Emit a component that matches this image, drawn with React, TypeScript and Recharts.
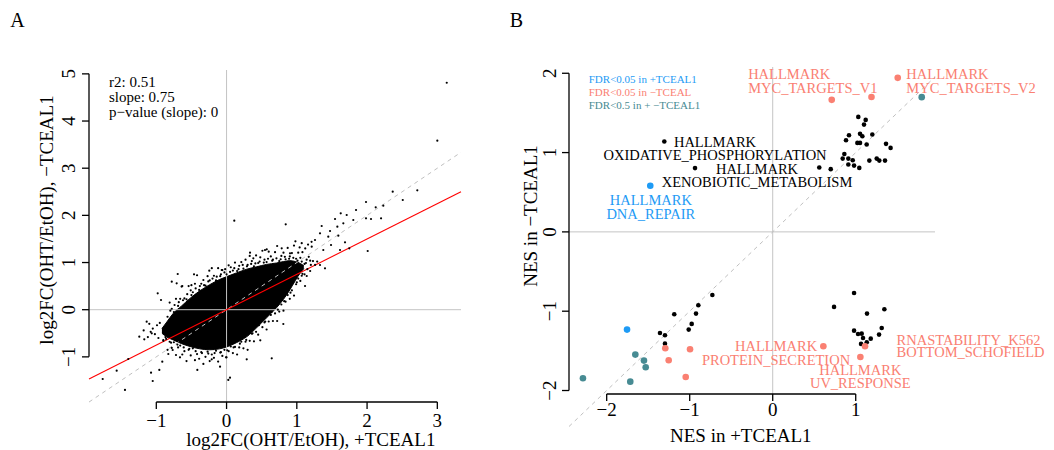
import React from 'react';
import { ComposedChart, ScatterChart, Scatter, Area, XAxis, YAxis, ReferenceLine, Label } from 'recharts';

const FONT = '"Liberation Serif", "Times New Roman", "DejaVu Serif", serif';
const SALMON = '#FA8072';
const BLUE = '#1E9BF5';
const TEAL = '#478B93';
const GRID = '#C4C4C4';

// ================= Panel A data =================
const aXTicks = [-1, 0, 1, 2, 3];
const aYTicks = [-1, 0, 1, 2, 3, 4, 5];
const aXDomain: [number, number] = [-1.958, 3.337];
const aYDomain: [number, number] = [-1.957, 5.082];

// dense core of the gene cloud (lower / upper edge per x)
const aCoreX = [-0.92, -0.85, -0.76, -0.64, -0.52, -0.38, -0.24, -0.1, 0.0, 0.14, 0.29, 0.43, 0.57, 0.71, 0.81, 0.9, 0.98, 1.05, 1.1];
const aCoreLow = [-0.5, -0.58, -0.64, -0.72, -0.78, -0.83, -0.85, -0.83, -0.79, -0.7, -0.57, -0.38, -0.17, 0.04, 0.22, 0.42, 0.62, 0.78, 0.87];
const aCoreHigh = [-0.4, -0.26, -0.08, 0.08, 0.24, 0.4, 0.53, 0.64, 0.7, 0.78, 0.86, 0.91, 0.96, 0.99, 1.02, 1.04, 1.02, 0.98, 0.93];

// isolated genes
const aOutliers: [number, number][] = [
  [3.134, 4.812], [3.0, 3.583], [0.11, 1.887], [0.842, 1.81], [1.985, 2.283], [2.365, 2.502], [2.715, 2.531],
  [2.508, 2.326], [2.123, 2.171], [2.231, 2.205], [1.843, 2.114], [1.71, 2.008], [1.985, 1.938], [2.056, 1.923],
  [2.199, 1.938], [1.804, 1.902], [1.625, 2.044], [1.544, 1.923], [1.662, 1.832], [2.009, 1.244], [1.747, 1.302],
  [1.686, 1.429], [1.615, 1.266], [1.577, 1.76], [1.473, 1.668], [1.354, 1.774], [1.448, 1.548], [1.591, 1.569],
  [1.33, 1.62], [1.487, 1.372], [1.377, 1.266], [1.259, 1.478], [1.212, 1.336], [1.401, 0.878], [1.33, 0.948],
  [1.141, 0.714], [1.117, 0.502], [0.808, -0.303], [0.643, -1.03], [0.287, -1.052], [0.025, -1.49], [0.049, -1.442],
  [-0.008, -1.009], [-0.093, -1.208], [-0.416, -1.278], [-0.211, -1.052], [0.572, 1.28], [0.334, 1.208], [0.785, 1.302],
  [-0.069, 0.842], [-0.246, 0.827], [-0.463, 0.75], [-0.695, 0.757], [-0.98, 0.348], [-0.933, 0.206], [-1.137, -0.254],
  [-1.242, -0.572], [-1.171, -0.628], [-1.065, -0.5], [-0.9, -0.642], [-1.399, -1.045], [-1.564, -1.293], [-1.763, -1.469],
  [-1.446, -1.702], [-1.075, -1.336], [-1.051, -1.512], [-0.957, -1.278], [-0.915, -1.102], [-0.829, -0.939],
  [-0.663, -1.009], [-0.767, -0.854], [0.381, 1.09], [0.547, 1.266], [0.903, 1.196], [1.07, 1.41], [1.21, 1.44],
  [-0.78, 0.594], [-0.71, 0.56], [-0.64, 0.49], [-0.5, 0.52], [0.096, 0.7],
];

// speckled halo above the core
const aHaloUpper: [number, number][] = [
  [-0.84, -0.15], [-0.81, 0.15], [-0.78, 0.02], [-0.75, -0.05], [-0.72, 0.23], [-0.69, 0.08], [-0.66, 0.23], [-0.63, 0.5],
  [-0.6, 0.24], [-0.57, 0.22], [-0.54, 0.5], [-0.51, 0.41], [-0.48, 0.37], [-0.45, 0.55], [-0.42, 0.73], [-0.39, 0.42],
  [-0.36, 0.55], [-0.33, 0.63], [-0.3, 0.51], [-0.27, 0.71], [-0.24, 0.62], [-0.21, 0.88], [-0.18, 0.72], [-0.15, 0.62],
  [-0.12, 0.88], [-0.09, 0.71], [-0.06, 0.84], [-0.03, 0.79], [0.0, 0.75], [0.03, 0.94], [0.06, 0.9], [0.09, 0.83],
  [0.12, 1.0], [0.15, 0.82], [0.18, 0.93], [0.21, 1.01], [0.24, 0.87], [0.27, 1.06], [0.3, 0.95], [0.33, 1.14],
  [0.36, 1.03], [0.39, 0.92], [0.42, 1.15], [0.45, 0.99], [0.48, 1.11], [0.51, 1.25], [0.54, 1.06], [0.57, 1.01],
  [0.6, 1.23], [0.63, 1.13], [0.66, 1.06], [0.69, 1.22], [0.72, 1.35], [0.75, 1.03], [0.78, 1.14], [0.81, 1.21],
  [0.84, 1.07], [0.87, 1.31], [0.9, 1.13], [0.93, 1.2], [0.96, 1.36], [0.99, 1.08], [1.02, 1.21], [1.05, 1.1],
  [1.08, 1.22], [1.11, 0.97], [1.14, 1.06], [1.17, 1.12], [1.2, 0.95], [1.23, 1.03], [1.26, 0.95], [1.29, 1.02],
  [1.04, 1.32], [1.12, 1.3], [0.98, 1.45], [1.16, 1.38],
  [-0.8, -0.02], [-0.74, 0.1], [-0.68, 0.16], [-0.62, 0.2], [-0.56, 0.33], [-0.5, 0.31], [-0.44, 0.45], [-0.38, 0.5],
  [-0.32, 0.52], [-0.26, 0.6], [-0.2, 0.66], [-0.14, 0.7], [-0.08, 0.75], [-0.02, 0.86], [0.05, 0.8], [0.11, 0.88],
  [0.17, 0.86], [0.23, 0.95], [0.29, 0.92], [0.35, 0.97], [0.41, 0.98], [0.47, 1.02], [0.53, 1.0], [0.59, 1.08],
  [0.65, 1.04], [0.71, 1.09], [0.77, 1.07], [0.83, 1.12], [0.89, 1.08], [0.95, 1.1], [1.01, 1.04], [1.07, 1.02],
  [1.13, 0.99], [1.19, 1.04],
];

// speckled halo below the core and around its left tip
const aHaloLower: [number, number][] = [
  [-1.05, -0.4], [-1.02, -0.52], [-0.99, -0.33], [-0.97, -0.6], [-1.08, -0.47], [-1.12, -0.58], [-1.18, -0.44],
  [-1.1, -0.3], [-0.95, -0.28],
  [-0.9, -0.66], [-0.87, -0.58], [-0.84, -0.85], [-0.81, -0.68], [-0.78, -0.81], [-0.75, -0.69], [-0.72, -0.96],
  [-0.69, -0.8], [-0.66, -0.76], [-0.63, -0.95], [-0.6, -0.88], [-0.57, -1.09], [-0.54, -0.85], [-0.51, -0.97],
  [-0.48, -0.82], [-0.45, -1.07], [-0.42, -0.94], [-0.39, -1.04], [-0.36, -0.9], [-0.33, -1.15], [-0.3, -1.0],
  [-0.27, -0.89], [-0.24, -1.09], [-0.21, -0.95], [-0.18, -1.02], [-0.15, -0.87], [-0.12, -1.1], [-0.09, -0.91],
  [-0.06, -0.98], [-0.03, -0.85], [0.0, -1.01], [0.03, -0.88], [0.06, -0.78], [0.09, -0.92], [0.12, -0.79],
  [0.15, -0.95], [0.18, -0.8], [0.21, -0.68], [0.24, -0.82], [0.27, -0.68], [0.3, -0.85], [0.33, -0.66], [0.36, -0.51],
  [0.39, -0.67], [0.42, -0.47], [0.45, -0.53], [0.48, -0.65], [0.51, -0.37], [0.54, -0.27], [0.57, -0.42], [0.6, -0.25],
  [0.63, -0.11], [0.66, -0.24], [0.69, -0.08], [0.72, -0.24], [0.75, -0.04], [0.78, 0.11], [0.81, -0.02], [0.84, 0.17],
  [0.87, 0.31], [0.9, 0.23], [0.93, 0.41], [0.96, 0.3], [0.99, 0.54], [1.02, 0.66], [1.05, 0.61], [1.08, 0.76],
  [1.11, 0.75], [1.15, 0.86], [1.19, 0.82],
  [-0.86, -0.62], [-0.79, -0.7], [-0.7, -0.74], [-0.61, -0.8], [-0.53, -0.83], [-0.44, -0.88], [-0.35, -0.92],
  [-0.26, -0.93], [-0.17, -0.92], [-0.08, -0.9], [0.01, -0.86], [0.1, -0.8], [0.19, -0.72], [0.28, -0.64], [0.37, -0.5],
  [0.46, -0.33], [0.55, -0.25], [0.64, -0.05], [0.73, 0.0], [0.82, 0.18], [0.91, 0.36], [1.0, 0.58], [1.07, 0.72],
];

const aFitSlope = 0.75;
const aFitIntercept = 0;
const aStats = ['r2: 0.51', 'slope: 0.75', 'p\u2212value (slope): 0'];

// ================= Panel B data =================
const bXTicks = [-2, -1, 0, 1];
const bYTicks = [-2, -1, 0, 1, 2];
const bXDomain: [number, number] = [-2.454, 1.955];
const bYDomain: [number, number] = [-2.044, 2.079];

const bNeutral: [number, number][] = [
  [1.031, 1.45], [1.12, 1.412], [1.1, 1.353], [0.919, 1.218], [1.052, 1.236], [1.08, 1.206], [1.2, 1.227], [0.883, 1.155],
  [1.02, 1.122], [1.052, 1.122], [1.132, 1.101], [1.365, 1.11], [1.42, 1.059], [0.863, 0.983], [0.843, 0.924], [0.911, 0.924],
  [0.964, 0.903], [0.911, 0.849], [0.98, 0.836], [1.043, 0.807], [1.164, 0.899], [1.253, 0.924], [1.284, 0.899], [1.353, 0.899],
  [0.561, 0.812], [0.699, 0.791], [-1.306, 1.139], [-0.936, 0.804],
  [-0.727, -0.795], [-0.896, -0.925], [-1.186, -1.039], [-0.924, -1.03], [-0.976, -1.16], [-1.012, -1.232], [-1.358, -1.274],
  [-1.298, -1.304], [-1.298, -1.409],
  [0.98, -0.77], [0.739, -0.946], [1.345, -0.976], [1.136, -1.03], [1.313, -1.211], [0.98, -1.245], [1.028, -1.287],
  [1.072, -1.283], [1.281, -1.295], [1.088, -1.337], [1.181, -1.346], [1.133, -1.392], [1.064, -1.412],
];
const bSigMinus: [number, number][] = [
  [0.711, 1.665], [1.19, 1.7], [1.506, 1.942], [0.61, -1.442], [1.056, -1.577], [1.112, -1.442],
  [-1.294, -1.468], [-0.996, -1.48], [-1.253, -1.619], [-1.048, -1.829],
];
const bSigPlus: [number, number][] = [[-1.475, 0.581], [-1.755, -1.232]];
const bSigBoth: [number, number][] = [
  [1.795, 1.699], [-1.655, -1.547], [-1.551, -1.623], [-1.53, -1.707], [-2.286, -1.846], [-1.716, -1.888],
];

const bLabels = [
  { text: 'HALLMARK', x: -0.296, y: 1.992, group: 'minus', anchor: 'start' },
  { text: 'MYC_TARGETS_V1', x: -0.296, y: 1.82, group: 'minus', anchor: 'start' },
  { text: 'HALLMARK', x: 1.61, y: 1.992, group: 'minus', anchor: 'start' },
  { text: 'MYC_TARGETS_V2', x: 1.61, y: 1.82, group: 'minus', anchor: 'start' },
  { text: 'HALLMARK', x: -0.695, y: 1.139, group: 'neutral', anchor: 'middle' },
  { text: 'OXIDATIVE_PHOSPHORYLATION', x: -0.695, y: 0.972, group: 'neutral', anchor: 'middle' },
  { text: 'HALLMARK', x: -0.189, y: 0.791, group: 'neutral', anchor: 'middle' },
  { text: 'XENOBIOTIC_METABOLISM', x: -0.189, y: 0.623, group: 'neutral', anchor: 'middle' },
  { text: 'HALLMARK', x: -1.468, y: 0.396, group: 'plus', anchor: 'middle' },
  { text: 'DNA_REPAIR', x: -1.468, y: 0.228, group: 'plus', anchor: 'middle' },
  { text: 'HALLMARK', x: 0.04, y: -1.444, group: 'minus', anchor: 'middle' },
  { text: 'PROTEIN_SECRETION', x: 0.04, y: -1.612, group: 'minus', anchor: 'middle' },
  { text: 'RNASTABILITY_K562', x: 1.492, y: -1.36, group: 'minus', anchor: 'start' },
  { text: 'BOTTOM_SCHOFIELD', x: 1.492, y: -1.52, group: 'minus', anchor: 'start' },
  { text: 'HALLMARK', x: 1.055, y: -1.738, group: 'minus', anchor: 'middle' },
  { text: 'UV_RESPONSE', x: 1.055, y: -1.906, group: 'minus', anchor: 'middle' },
];

const bLegend = [
  { text: 'FDR<0.05 in +TCEAL1', group: 'plus' },
  { text: 'FDR<0.05 in \u2212TCEAL', group: 'minus' },
  { text: 'FDR<0.5 in + \u2212TCEAL1', group: 'both' },
];

// ================= helpers =================
const colorOf = (g: string) =>
  g === 'minus' ? SALMON : g === 'plus' ? BLUE : g === 'both' ? TEAL : '#000000';

const fmt = (v: number) => (v < 0 ? `\u2212${Math.abs(v)}` : `${v}`);

const toRows = (pts: [number, number][]) => pts.map(([x, y]) => ({ x, y }));

const dotShape = (r: number, fill: string) => (p: any) =>
  p.cx == null ? <g /> : <circle cx={p.cx} cy={p.cy} r={r} fill={fill} />;

const textShape = (fontSize: number) => (p: any) =>
  p.cx == null ? (
    <g />
  ) : (
    <text
      x={p.cx}
      y={p.cy}
      textAnchor={p.payload.anchor || 'start'}
      dominantBaseline="central"
      fontFamily={FONT}
      fontSize={fontSize}
      fill={colorOf(p.payload.group)}
    >
      {p.payload.text}
    </text>
  );

const xTick = (cy: number) => (p: any) => (
  <text x={p.x} y={cy} textAnchor="middle" dominantBaseline="central" fontFamily={FONT} fontSize={19} fill="#000">
    {fmt(p.payload.value)}
  </text>
);

const yTick = (cx: number) => (p: any) => (
  <text
    x={cx}
    y={p.y}
    transform={`rotate(-90 ${cx} ${p.y})`}
    textAnchor="middle"
    dominantBaseline="central"
    fontFamily={FONT}
    fontSize={19}
    fill="#000"
  >
    {fmt(p.payload.value)}
  </text>
);

const hTitle = (text: string, x: number, y: number) => () => (
  <text x={x} y={y} textAnchor="middle" fontFamily={FONT} fontSize={19} fill="#000">
    {text}
  </text>
);
const vTitle = (text: string, x: number, y: number) => () => (
  <text x={x} y={y} transform={`rotate(-90 ${x} ${y})`} textAnchor="middle" fontFamily={FONT} fontSize={19} fill="#000">
    {text}
  </text>
);

// ================= Panel A =================
function PanelA() {
  const coreRows = aCoreX.map((x, i) => ({ x, band: [aCoreLow[i], aCoreHigh[i]] }));
  const dots = toRows([...aHaloUpper, ...aHaloLower, ...aOutliers]);
  const statRows = aStats.map((t, i) => ({ x: -1.673, y: 4.834 - i * 0.318, text: t, group: 'neutral', anchor: 'start' }));
  const fit = (x: number) => aFitIntercept + aFitSlope * x;
  return (
    <ComposedChart width={520} height={450} data={coreRows} margin={{ top: 70, right: 59, bottom: 0, left: 0 }}>
      <XAxis
        type="number"
        dataKey="x"
        domain={aXDomain}
        ticks={aXTicks}
        interval={0}
        axisLine={false}
        tickLine={{ stroke: '#000', strokeWidth: 1.3 }}
        tickSize={7}
        height={48}
        tick={xTick(420)}
      >
        <Label content={hTitle('log2FC(OHT/EtOH), +TCEAL1', 310.8, 445.5)} />
      </XAxis>
      <YAxis
        type="number"
        domain={aYDomain}
        ticks={aYTicks}
        interval={0}
        axisLine={false}
        tickLine={{ stroke: '#000', strokeWidth: 1.3 }}
        tickSize={7}
        width={89}
        tick={yTick(68.5)}
      >
        <Label content={vTitle('log2FC(OHT/EtOH), \u2212TCEAL1', 52.5, 220)} />
      </YAxis>
      <ReferenceLine x={0} stroke={GRID} strokeWidth={1} ifOverflow="hidden" />
      <ReferenceLine y={0} stroke={GRID} strokeWidth={1} ifOverflow="hidden" />
      <Area
        dataKey="band"
        type="monotone"
        stroke="#000"
        strokeWidth={1}
        fill="#000"
        fillOpacity={1}
        isAnimationActive={false}
        dot={false}
        activeDot={false}
      />
      <Scatter data={dots} dataKey="y" shape={dotShape(1.1, '#000')} isAnimationActive={false} />
      <ReferenceLine
        segment={[{ x: aXDomain[0], y: aXDomain[0] }, { x: aXDomain[1], y: aXDomain[1] }]}
        stroke="#C0C0C0"
        strokeDasharray="4 4"
        ifOverflow="visible"
      />
      <ReferenceLine
        segment={[{ x: aXDomain[0], y: fit(aXDomain[0]) }, { x: aXDomain[1], y: fit(aXDomain[1]) }]}
        stroke="#FF0000"
        strokeWidth={1.1}
        ifOverflow="visible"
      />
      <ReferenceLine
        segment={[{ x: aXTicks[0], y: aYDomain[0] }, { x: aXTicks[aXTicks.length - 1], y: aYDomain[0] }]}
        stroke="#000"
        strokeWidth={1.3}
        ifOverflow="visible"
      />
      <ReferenceLine
        segment={[{ x: aXDomain[0], y: aYTicks[0] }, { x: aXDomain[0], y: aYTicks[aYTicks.length - 1] }]}
        stroke="#000"
        strokeWidth={1.3}
        ifOverflow="visible"
      />
      <Scatter data={statRows} dataKey="y" shape={textShape(15)} isAnimationActive={false} />
    </ComposedChart>
  );
}

// ================= Panel B =================
function PanelB() {
  const legendRows = bLegend.map((l, i) => ({ x: -2.216, y: 1.926 - i * 0.162, text: l.text, group: l.group, anchor: 'start' }));
  return (
    <ScatterChart width={534} height={450} margin={{ top: 67, right: 119, bottom: 0, left: 0 }}>
      <XAxis
        type="number"
        dataKey="x"
        domain={bXDomain}
        ticks={bXTicks}
        interval={0}
        axisLine={false}
        tickLine={{ stroke: '#000', strokeWidth: 1.3 }}
        tickSize={7}
        height={56}
        tick={xTick(409.7)}
      >
        <Label content={hTitle('NES in +TCEAL1', 220.8, 441.5)} />
      </XAxis>
      <YAxis
        type="number"
        dataKey="y"
        domain={bYDomain}
        ticks={bYTicks}
        interval={0}
        axisLine={false}
        tickLine={{ stroke: '#000', strokeWidth: 1.3 }}
        tickSize={7}
        width={49}
        tick={yTick(29.7)}
      >
        <Label content={vTitle('NES in \u2212TCEAL1', 17, 216)} />
      </YAxis>
      <ReferenceLine x={0} stroke={GRID} strokeWidth={1} ifOverflow="hidden" />
      <ReferenceLine y={0} stroke={GRID} strokeWidth={1} ifOverflow="hidden" />
      <ReferenceLine
        segment={[{ x: bXDomain[0], y: bXDomain[0] }, { x: bXDomain[1], y: bXDomain[1] }]}
        stroke="#C0C0C0"
        strokeDasharray="4 4"
        ifOverflow="visible"
      />
      <ReferenceLine
        segment={[{ x: bXTicks[0], y: bYDomain[0] }, { x: bXTicks[bXTicks.length - 1], y: bYDomain[0] }]}
        stroke="#000"
        strokeWidth={1.3}
        ifOverflow="visible"
      />
      <ReferenceLine
        segment={[{ x: bXDomain[0], y: bYTicks[0] }, { x: bXDomain[0], y: bYTicks[bYTicks.length - 1] }]}
        stroke="#000"
        strokeWidth={1.3}
        ifOverflow="visible"
      />
      <Scatter data={toRows(bNeutral)} shape={dotShape(2.3, '#000')} isAnimationActive={false} />
      <Scatter data={toRows(bSigMinus)} shape={dotShape(3.3, SALMON)} isAnimationActive={false} />
      <Scatter data={toRows(bSigPlus)} shape={dotShape(3.3, BLUE)} isAnimationActive={false} />
      <Scatter data={toRows(bSigBoth)} shape={dotShape(3.3, TEAL)} isAnimationActive={false} />
      <Scatter data={bLabels} shape={textShape(14.5)} isAnimationActive={false} />
      <Scatter data={legendRows} shape={textShape(11)} isAnimationActive={false} />
    </ScatterChart>
  );
}

export default function App() {
  return (
    <div style={{ position: 'absolute', left: 0, top: 0, width: 1054, height: 450, background: '#fff', overflow: 'hidden' }}>
      <div style={{ position: 'absolute', left: 0, top: 0 }}>
        <PanelA />
      </div>
      <div style={{ position: 'absolute', left: 520, top: 0 }}>
        <PanelB />
      </div>
      <svg width={1054} height={450} style={{ position: 'absolute', left: 0, top: 0, pointerEvents: 'none' }}>
        <text x={17.5} y={26.7} textAnchor="middle" fontFamily={FONT} fontSize={20} fill="#000">A</text>
        <text x={516.5} y={26.7} textAnchor="middle" fontFamily={FONT} fontSize={20} fill="#000">B</text>
      </svg>
    </div>
  );
}
